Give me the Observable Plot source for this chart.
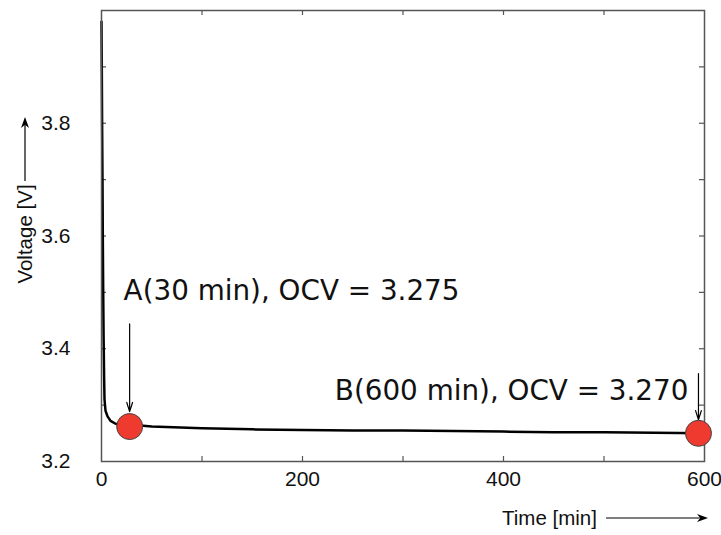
<!DOCTYPE html>
<html><head><meta charset="utf-8">
<script src="https://cdn.jsdelivr.net/npm/d3@7"></script>
<script src="https://cdn.jsdelivr.net/npm/@observablehq/plot@0.6"></script>
<style>body{margin:0;background:#fff}</style>
</head><body><div id="chart"></div>
<script>
// Relaxation curve
const time    = [0, 0.3, 0.6, 1, 1.3, 1.7, 2.1, 2.6, 3, 4, 6, 9, 14, 20, 30, 50, 100, 150, 200, 250, 300, 350, 400, 450, 500, 550, 600];
const voltage = [3.98, 3.9, 3.8, 3.7, 3.6, 3.5, 3.42, 3.35, 3.31, 3.29, 3.28, 3.272, 3.267, 3.266, 3.265, 3.262, 3.259, 3.257, 3.256, 3.255, 3.255, 3.254, 3.253, 3.252, 3.252, 3.251, 3.25];

// Highlighted points and annotations
const pointNames   = ["A", "B"];
const pointTime    = [28, 594];
const pointVoltage = [3.262, 3.250];
const arrowTop     = [3.444, 3.356];
const arrowBottom  = [3.2885, 3.274];
const noteText     = ["A(30 min), OCV = 3.275", "B(600 min), OCV = 3.270"];
const noteTime     = [22, 584];
const noteVoltage  = [3.502, 3.325];
const noteAnchor   = ["start", "end"];

// Axes
const xTickLabels = [0, 200, 400, 600];
const xMinorTicks = [100, 200, 300, 400, 500];
const yTickLabels = [3.2, 3.4, 3.6, 3.8];
const yMinorTicks = [3.3, 3.4, 3.5, 3.6, 3.7, 3.8, 3.9];
const xTitle = "Time [min]";
const yTitle = "Voltage [V]";

const curve = time.map((t, i) => ({t, v: voltage[i]}));
const points = pointNames.map((n, i) => ({n, t: pointTime[i], v: pointVoltage[i], top: arrowTop[i], bottom: arrowBottom[i]}));
const notes = noteText.map((s, i) => ({s, t: noteTime[i], v: noteVoltage[i], a: noteAnchor[i]}));

const W = 721, H = 535, mL = 101, mR = 17, mT = 10, mB = 74;
const pw = W - mL - mR, ph = H - mT - mB;

function arrowG(g, x1, y1, x2, y2, len, half) {
  const a = Math.atan2(y2 - y1, x2 - x1);
  const bx = x2 - len * Math.cos(a), by = y2 - len * Math.sin(a);
  const nx = -Math.sin(a) * half, ny = Math.cos(a) * half;
  const mx = x2 - len * 0.7 * Math.cos(a), my = y2 - len * 0.7 * Math.sin(a);
  g.append("line").attr("x1", x1).attr("y1", y1).attr("x2", mx).attr("y2", my)
    .attr("stroke", "#000").attr("stroke-width", 1.2);
  g.append("path").attr("d", `M${x2},${y2}L${bx + nx},${by + ny}L${mx},${my}L${bx - nx},${by - ny}Z`).attr("fill", "#000");
}

const noteMark = (anchor) => Plot.text(notes.filter(d => d.a === anchor), {
  x: "t", y: "v", text: "s", textAnchor: anchor, lineAnchor: "middle",
  fontFamily: "DejaVu Sans", fontSize: 27.8, fill: "#111"
});

const chart = Plot.plot({
  width: W, height: H,
  marginLeft: mL, marginRight: mR, marginTop: mT, marginBottom: mB,
  style: {fontFamily: "Liberation Sans, Arial, sans-serif", fontSize: "21px", background: "#fff", color: "#111"},
  x: {domain: [0, 600]},
  y: {domain: [3.2, 4.0]},
  marks: [
    Plot.tickX(xMinorTicks, {x: d => d, insetTop: ph - 5, stroke: "#555", strokeWidth: 1.2}),
    Plot.tickX(xMinorTicks, {x: d => d, insetBottom: ph - 5, stroke: "#555", strokeWidth: 1.2}),
    Plot.tickY(yMinorTicks, {y: d => d, insetRight: pw - 5, stroke: "#555", strokeWidth: 1.2}),
    Plot.tickY(yMinorTicks, {y: d => d, insetLeft: pw - 5, stroke: "#555", strokeWidth: 1.2}),
    Plot.axisY({ticks: yTickLabels, tickSize: 0, tickPadding: 31, tickFormat: d3.format(".1f"), label: null, fontSize: 21}),
    Plot.axisX({ticks: xTickLabels, tickSize: 0, tickPadding: 10, tickFormat: d3.format("d"), label: null, fontSize: 21}),
    Plot.line(curve, {x: "t", y: "v", stroke: "#000", strokeWidth: 2.5}),
    Plot.frame({stroke: "#555", strokeWidth: 1.5}),
    Plot.arrow(points, {x: "t", y1: "top", y2: "bottom", stroke: "#000", strokeWidth: 1.2, headLength: 12, headAngle: 35}),
    Plot.dot(points, {x: "t", y: "v", r: 13, fill: "#ee3a2f", stroke: "#444", strokeWidth: 1}),
    noteMark("start"),
    noteMark("end"),
    (index, scales, values, dims) => {
      const g = d3.create("svg:g").attr("font-family", "Liberation Sans, Arial, sans-serif").attr("font-size", 20.5).attr("fill", "#111");
      const yl = g.append("g").attr("transform", `translate(${dims.marginLeft - 76},234) rotate(-90)`);
      yl.append("text").attr("text-anchor", "middle").attr("dy", "0.35em").text(yTitle);
      arrowG(yl, 53, 0, 117, 0, 11, 4);
      const xl = g.append("g").attr("transform", `translate(0,${H - 17})`);
      xl.append("text").attr("x", 502).attr("text-anchor", "start").attr("dy", "0.35em").text(xTitle);
      arrowG(xl, 606, 0, 708, 0, 11, 4);
      return g.node();
    }
  ]
});
document.getElementById("chart").append(chart);
</script>
</body></html>
